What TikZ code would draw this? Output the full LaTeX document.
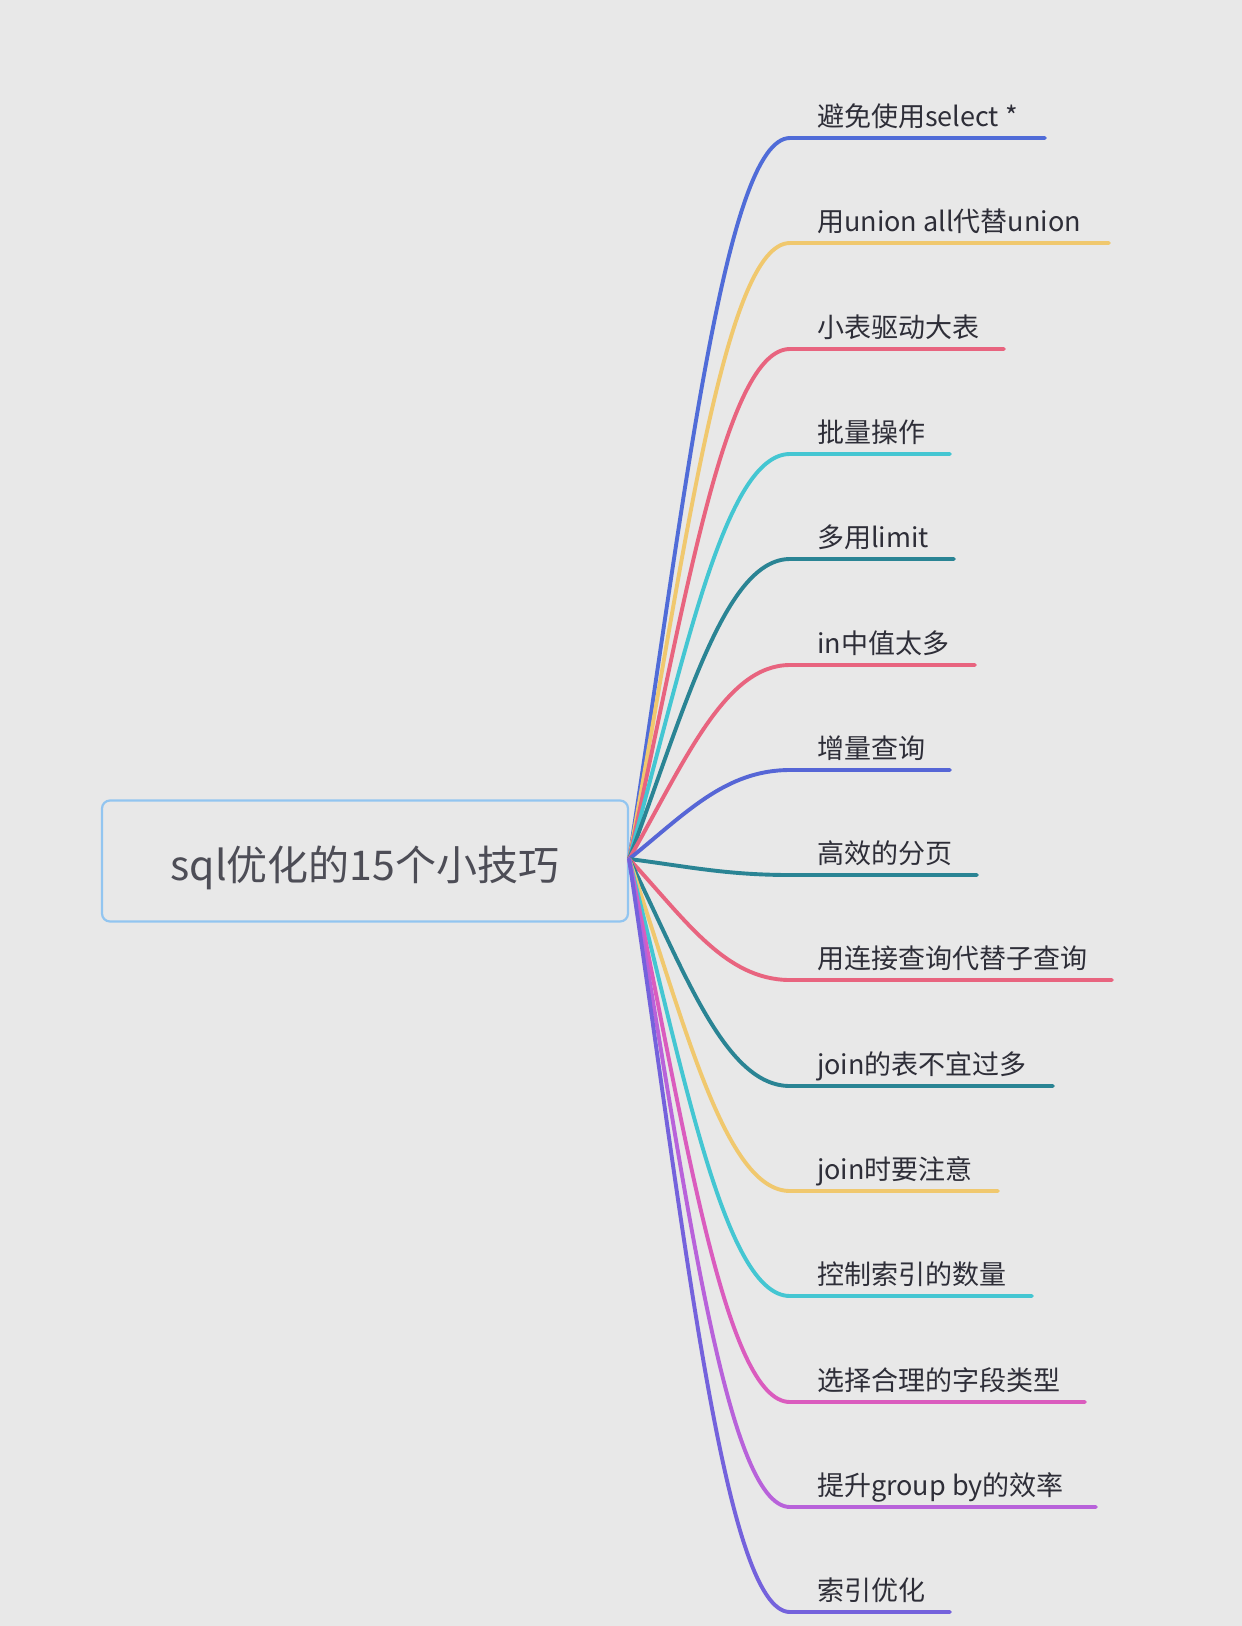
\documentclass[tikz,border=0pt]{standalone}
\usepackage{fontspec}
\setmainfont{Noto Sans CJK SC}
\usetikzlibrary{calc}

\definecolor{bgGray}{HTML}{E8E8E8}
\definecolor{boxBlue}{HTML}{92C5F0}
\definecolor{cBlueA}{HTML}{506CD8}
\definecolor{cBlueB}{HTML}{5666D6}
\definecolor{cYellow}{HTML}{F0C86E}
\definecolor{cRed}{HTML}{E8647F}
\definecolor{cCyan}{HTML}{44C6D2}
\definecolor{cTeal}{HTML}{2A8494}
\definecolor{cMagenta}{HTML}{DA5CBE}
\definecolor{cPurple}{HTML}{B862DA}
\definecolor{cViolet}{HTML}{7462DC}
\definecolor{txtDark}{HTML}{2E2E38}

\tikzset{
  topic/.style={draw=boxBlue, line width=2.2pt, rounded corners=8pt, fill=bgGray,
    minimum width=526pt, minimum height=121pt},
  topictext/.style={text=txtDark!85, inner sep=0pt, font=\fontsize{41}{48}\selectfont},
  leaf/.style={anchor=base west, inner sep=0pt, text=txtDark,
    font=\fontsize{27}{32}\selectfont},
  branch/.style={line width=3.9pt, line cap=round}
}

\begin{document}
\begin{tikzpicture}[x=1pt,y=-1pt]

\fill[bgGray] (0,0) rectangle (1242,1626);
\useasboundingbox (0,0) rectangle (1242,1626);

\node[topic] (sql) at (365,861) {};
\node[topictext] (sqltxt) at ($(sql.center)+(0,7)$) {sql优化的15个小技巧};
\coordinate (root) at ($(sql.east)+(0,-2)$);

\node[leaf] (t1) at (817,126) {避免使用select *};
\node[leaf] (t2) at (817,231) {用union all代替union};
\node[leaf] (t3) at (817,337) {小表驱动大表};
\node[leaf] (t4) at (817,442) {批量操作};
\node[leaf] (t5) at (817,547) {多用limit};
\node[leaf] (t6) at (817,653) {in中值太多};
\node[leaf] (t7) at (817,758) {增量查询};
\node[leaf] (t8) at (817,863) {高效的分页};
\node[leaf] (t9) at (817,968) {用连接查询代替子查询};
\node[leaf] (t10) at (817,1074) {join的表不宜过多};
\node[leaf] (t11) at (817,1179) {join时要注意};
\node[leaf] (t12) at (817,1284) {控制索引的数量};
\node[leaf] (t13) at (817,1390) {选择合理的字段类型};
\node[leaf] (t14) at (817,1495) {提升group by的效率};
\node[leaf] (t15) at (817,1600) {索引优化};

\draw[branch,cBlueA] (root) .. controls (685,498) and (725,138) .. (790,138) -- (1045,138);
\draw[branch,cYellow] (root) .. controls (685,550) and (725,243) .. (790,243) -- (1109,243);
\draw[branch,cRed] (root) .. controls (685,603) and (725,349) .. (790,349) -- (1004,349);
\draw[branch,cCyan] (root) .. controls (685,656) and (725,454) .. (790,454) -- (950,454);
\draw[branch,cTeal] (root) .. controls (685,708) and (725,559) .. (790,559) -- (954,559);
\draw[branch,cRed] (root) .. controls (685,761) and (725,665) .. (790,665) -- (975,665);
\draw[branch,cBlueB] (root) .. controls (685,814) and (725,770) .. (790,770) -- (950,770);
\draw[branch,cTeal] (root) .. controls (685,866) and (725,875) .. (790,875) -- (977,875);
\draw[branch,cRed] (root) .. controls (685,919) and (725,980) .. (790,980) -- (1112,980);
\draw[branch,cTeal] (root) .. controls (685,972) and (725,1086) .. (790,1086) -- (1053,1086);
\draw[branch,cYellow] (root) .. controls (685,1024) and (725,1191) .. (790,1191) -- (998,1191);
\draw[branch,cCyan] (root) .. controls (685,1077) and (725,1296) .. (790,1296) -- (1032,1296);
\draw[branch,cMagenta] (root) .. controls (685,1130) and (725,1402) .. (790,1402) -- (1085,1402);
\draw[branch,cPurple] (root) .. controls (685,1182) and (725,1507) .. (790,1507) -- (1096,1507);
\draw[branch,cViolet] (root) .. controls (685,1235) and (725,1612) .. (790,1612) -- (950,1612);

\end{tikzpicture}
\end{document}
